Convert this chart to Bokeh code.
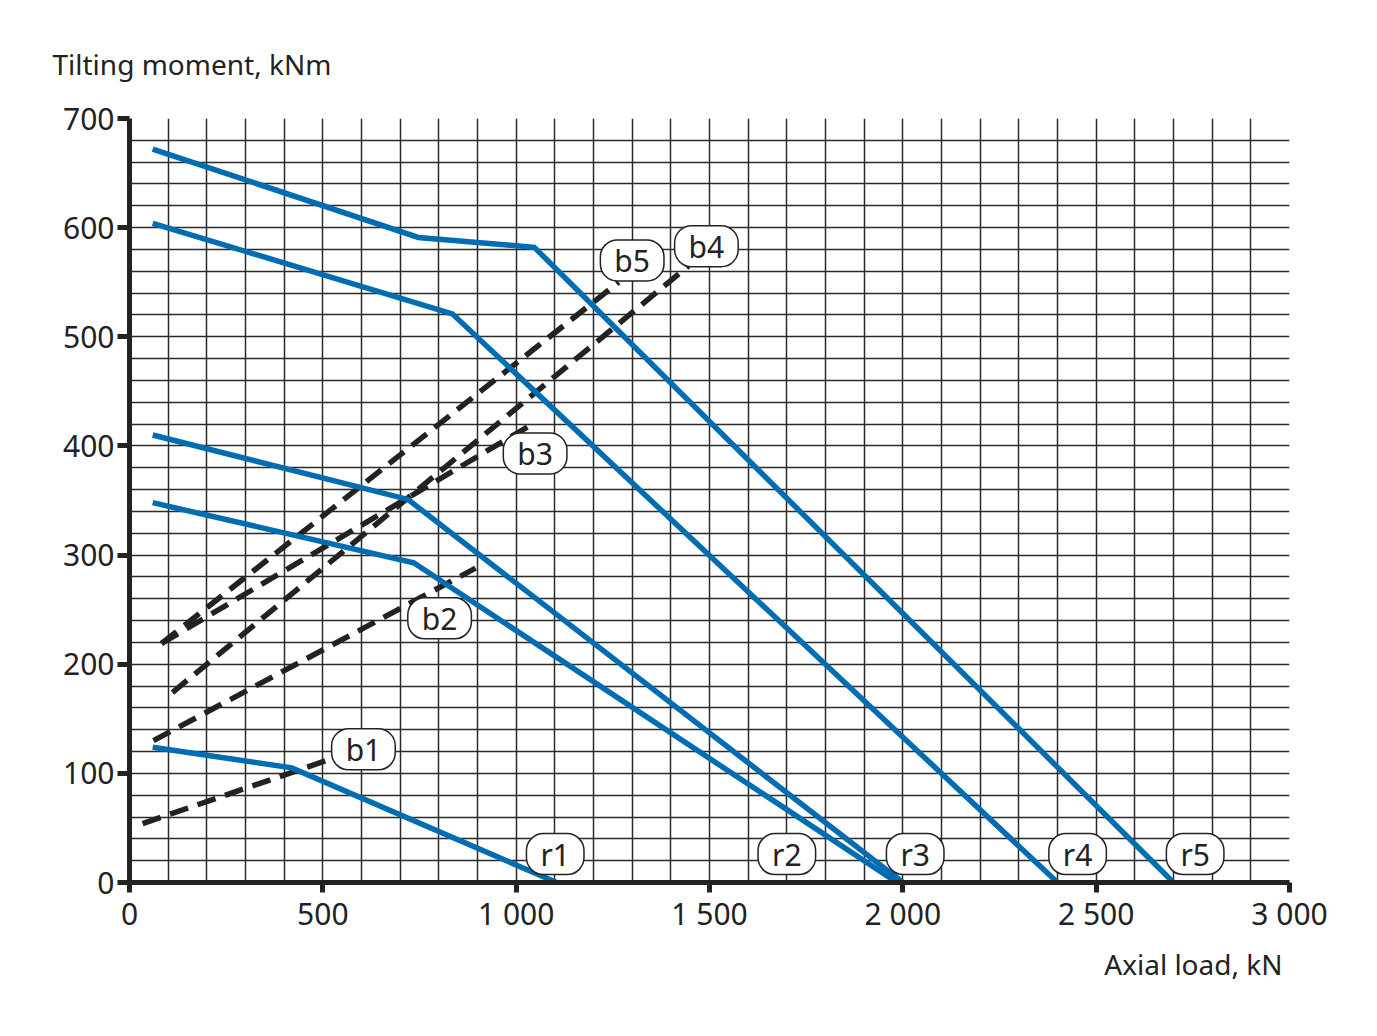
from bokeh.plotting import figure
from bokeh.models import Range1d, FixedTicker, Label, Title
from bokeh.embed import file_html
from bokeh.resources import INLINE

# blue solid curves (axial load kN, tilting moment kNm)
r1_x = [60, 420, 1105]
r1_y = [124, 105, 0]
r2_x = [60, 735, 1985]
r2_y = [348, 293, 0]
r3_x = [60, 720, 2000]
r3_y = [410, 351, 0]
r4_x = [60, 835, 2400]
r4_y = [604, 521, 0]
r5_x = [60, 747, 1047, 2700]
r5_y = [672, 591, 582, 0]

# black dashed lines
b1_x = [34, 528]
b1_y = [54, 114]
b2_x = [62, 895]
b2_y = [130, 288]
b3_x = [83, 1037]
b3_y = [219, 419]
b4_x = [111, 1446]
b4_y = [174, 565]
b5_x = [83, 1265]
b5_y = [219, 550]

# curve tags and where they sit
tag_names = ["b1", "b2", "b3", "b4", "b5", "r1", "r2", "r3", "r4", "r5"]
tag_x = [605, 802, 1049, 1492, 1300, 1101, 1700, 2032, 2452, 2756]
tag_y = [122, 242, 393, 583, 570, 26, 26, 26, 26, 26]

x_ticks = [0, 500, 1000, 1500, 2000, 2500, 3000]
x_tick_text = ["0", "500", "1 000", "1 500", "2 000", "2 500", "3 000"]
y_ticks = [0, 100, 200, 300, 400, 500, 600, 700]

FONT = "Noto Sans"
INK = "#222222"
BLUE = "#006db3"

p = figure(width=1370, height=1030, output_backend="svg", toolbar_location=None,
           x_range=Range1d(0, 3000), y_range=Range1d(0, 700),
           min_border_left=129, min_border_right=81, min_border_top=118, min_border_bottom=148)
p.outline_line_color = None

p.title.text = "Tilting moment, kNm"
p.title.align = "left"
p.title.offset = -77
p.title.standoff = 72
p.title.text_font = FONT
p.title.text_font_size = "28px"
p.title.text_font_style = "normal"
p.title.text_color = INK

p.add_layout(Title(text="Axial load, kN", align="right", offset=7, standoff=13,
                   text_font=FONT, text_font_size="28px", text_font_style="normal",
                   text_color=INK), "below")

p.xgrid.ticker = FixedTicker(ticks=list(range(0, 3001, 100)))
p.ygrid.ticker = FixedTicker(ticks=list(range(0, 701, 20)))
for g in (p.xgrid, p.ygrid):
    g.grid_line_color = "#2b2b2b"
    g.grid_line_width = 1.5

for ax in (p.xaxis, p.yaxis):
    ax.axis_line_width = 5
    ax.axis_line_color = INK
    ax.major_tick_line_width = 5
    ax.major_tick_line_color = INK
    ax.major_tick_in = 0
    ax.minor_tick_line_color = None
    ax.major_label_text_font = FONT
    ax.major_label_text_font_size = "30px"
    ax.major_label_text_color = INK

p.xaxis.ticker = FixedTicker(ticks=x_ticks)
p.xaxis.major_label_overrides = dict(zip(x_ticks, x_tick_text))
p.xaxis.major_tick_out = 10
p.xaxis.major_label_standoff = 0
p.yaxis.ticker = FixedTicker(ticks=y_ticks)
p.yaxis.major_tick_out = 12
p.yaxis.major_label_standoff = 3

for xs, ys in [(b1_x, b1_y), (b2_x, b2_y), (b3_x, b3_y), (b4_x, b4_y), (b5_x, b5_y)]:
    p.line(xs, ys, line_color=INK, line_width=5.5, line_dash="19 10")

for xs, ys in [(r1_x, r1_y), (r2_x, r2_y), (r3_x, r3_y), (r4_x, r4_y), (r5_x, r5_y)]:
    p.line(xs, ys, line_color=BLUE, line_width=5.5, line_join="miter")

for name, tx, ty in zip(tag_names, tag_x, tag_y):
    p.add_layout(Label(x=tx, y=ty, text=name, text_align="center", text_baseline="middle",
                       text_font=FONT, text_font_size="30px", text_color=INK,
                       background_fill_color="white", border_line_color=INK,
                       border_line_width=1.5, border_radius=17,
                       padding=dict(left=14, right=14, top=0, bottom=0)))

open("out.html", "w").write(file_html(p, INLINE))
